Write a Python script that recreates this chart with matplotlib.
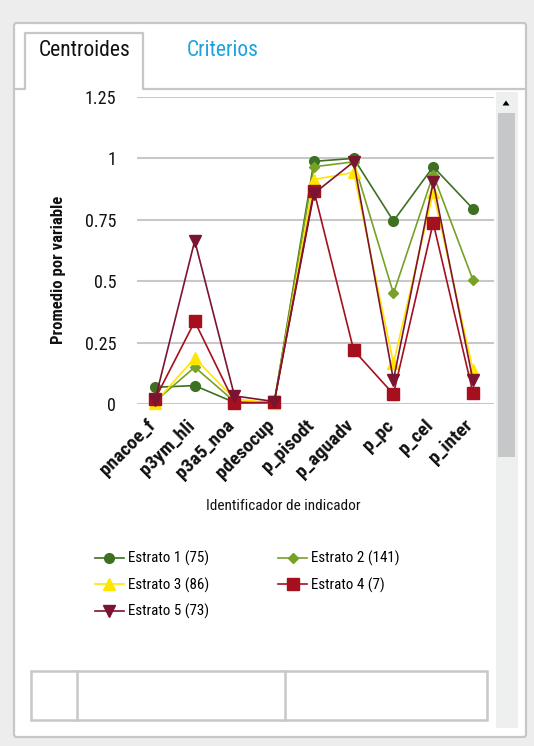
import matplotlib
matplotlib.use("Agg")
import matplotlib.pyplot as plt
from matplotlib.patches import FancyBboxPatch, Rectangle, Polygon
from matplotlib.lines import Line2D
from matplotlib.transforms import ScaledTranslation

# indicator centroids per stratum
categories = ["pnacoe_f", "p3ym_hli", "p3a5_noa", "pdesocup", "p_pisodt",
              "p_aguadv", "p_pc", "p_cel", "p_inter"]
estrato1 = [0.068, 0.075, 0.006, 0.004, 0.988, 1.000, 0.745, 0.966, 0.795]
estrato2 = [0.010, 0.150, 0.010, 0.004, 0.966, 0.986, 0.450, 0.934, 0.505]
estrato3 = [0.005, 0.187, 0.020, 0.004, 0.914, 0.943, 0.165, 0.862, 0.140]
estrato4 = [0.020, 0.336, 0.004, 0.007, 0.868, 0.219, 0.040, 0.738, 0.046]
estrato5 = [0.016, 0.665, 0.033, 0.010, 0.857, 0.986, 0.098, 0.904, 0.096]
series_labels = ["Estrato 1 (75)", "Estrato 2 (141)", "Estrato 3 (86)",
                 "Estrato 4 (7)", "Estrato 5 (73)"]
y_ticks = [0, 0.25, 0.5, 0.75, 1, 1.25]
y_tick_labels = ["0", "0.25", "0.5", "0.75", "1", "1.25"]

W, H = 534, 746
FONT = ["Roboto Condensed", "DejaVu Sans Condensed", "Open Sans Condensed",
        "Liberation Sans Narrow", "Roboto", "DejaVu Sans"]
plt.rcParams["font.family"] = FONT
plt.rcParams["font.stretch"] = "condensed"

fig = plt.figure(figsize=(W / 100, H / 100), dpi=100)
fig.patch.set_facecolor("#ecedec")


def fx(x):
    return x / W


def fy(y):
    return 1 - y / H


def box(x0, y0, x1, y1):
    return fx(x0), fy(y1), (x1 - x0) / W, (y1 - y0) / H


# white panel with tab strip
l, b, w, h = box(14, 23, 526, 737)
fig.add_artist(FancyBboxPatch((l, b), w, h, boxstyle="round,pad=0,rounding_size=0.004",
                              transform=fig.transFigure, facecolor="white",
                              edgecolor="#c6c8c7", linewidth=1.6, zorder=-2))
tab_path = [(14, 89), (24.5, 89), (24.5, 33), (143, 33), (143, 89), (525, 89)]
fig.add_artist(Line2D([fx(p[0]) for p in tab_path], [fy(p[1]) for p in tab_path],
                      transform=fig.transFigure, color="#c6c8c7", linewidth=1.6,
                      solid_joinstyle="round", zorder=-1))
fig.text(fx(84.5), fy(50), "Centroides", fontsize=15.5, color="#111111",
         ha="center", va="center")
fig.text(fx(222.5), fy(50), "Criterios", fontsize=15.5, color="#1ca3de",
         ha="center", va="center")

# empty table below the chart
l, b, w, h = box(31, 671, 487, 720)
fig.add_artist(Rectangle((l, b), w, h, transform=fig.transFigure, facecolor="none",
                         edgecolor="#c8c8c8", linewidth=1.8, zorder=-1))
for xd in (77, 285):
    fig.add_artist(Line2D([fx(xd), fx(xd)], [fy(671), fy(720)], transform=fig.transFigure,
                          color="#c8c8c8", linewidth=1.8, zorder=-1))

# scrollbar
l, b, w, h = box(496, 92, 518, 728)
fig.add_artist(FancyBboxPatch((l, b), w, h, boxstyle="round,pad=0,rounding_size=0.003",
                              transform=fig.transFigure, facecolor="#eeefef",
                              edgecolor="none", zorder=2))
l, b, w, h = box(498, 113, 515, 457)
fig.add_artist(Rectangle((l, b), w, h, transform=fig.transFigure,
                         facecolor="#c6c7c8", edgecolor="none", zorder=3))
fig.add_artist(Polygon([(fx(502.5), fy(105.5)), (fx(509.5), fy(105.5)), (fx(506), fy(100.5))],
                       closed=True, transform=fig.transFigure, facecolor="black",
                       edgecolor="none", zorder=3))

# chart
ax = fig.add_axes([fx(137), fy(404), (494 - 137) / W, (404 - 97) / H])
ax.set_facecolor("none")
x = list(range(len(categories)))

styles = [
    dict(color="#3d7022", marker="o", markersize=7),
    dict(color="#78a127", marker="D", markersize=5),
    dict(color="#ffe600", marker="^", markersize=8),
    dict(color="#a50f1e", marker="s", markersize=8),
    dict(color="#7a1430", marker="v", markersize=8),
]
handles = []
for values, label, st in zip([estrato1, estrato2, estrato3, estrato4, estrato5],
                             series_labels, styles):
    line, = ax.plot(x, values, linewidth=1.2, label=label, clip_on=False, zorder=3, **st)
    handles.append(line)

ax.set_xlim(-0.453, 8.53)
ax.set_ylim(0, 1.25)
ax.set_yticks(y_ticks)
ax.set_yticklabels(y_tick_labels, fontsize=13, color="#111111")
ax.set_xticks(x)
ax.set_xticklabels(categories, rotation=45, ha="right", va="top",
                   rotation_mode="anchor", fontsize=14, fontweight="bold",
                   color="#111111")
ax.tick_params(axis="y", length=0, pad=15)
ax.tick_params(axis="x", length=0, pad=6)
# nudge the slanted labels left/down (after tick_params, which resets transforms)
shift = ScaledTranslation(-0.09, -0.04, fig.dpi_scale_trans)
for lab in ax.get_xticklabels():
    lab.set_transform(lab.get_transform() + shift)
ax.grid(axis="y", color="#c8c8c8", linewidth=1.5)
ax.set_axisbelow(True)
for sp in ax.spines.values():
    sp.set_visible(False)

ax.set_ylabel("Promedio por variable", fontsize=12, fontweight="bold",
              color="#111111", va="center")
ax.yaxis.set_label_coords((58 - 137) / 357, (404 - 270) / 307)
ax.set_xlabel("Identificador de indicador", fontsize=11, color="#111111", va="center")
ax.xaxis.set_label_coords((283 - 137) / 357, (404 - 506) / 307)

# legend filled row by row
order = [0, 2, 4, 1, 3]
fig.legend([handles[i] for i in order], [series_labels[i] for i in order],
           ncol=2, loc="upper left", bbox_to_anchor=(fx(95), fy(551)),
           frameon=False, fontsize=10.8, handlelength=1.9, handletextpad=0.3,
           columnspacing=4.6, labelspacing=0.75, borderpad=0, borderaxespad=0)

fig.savefig("out.png", dpi=100, facecolor=fig.get_facecolor())
